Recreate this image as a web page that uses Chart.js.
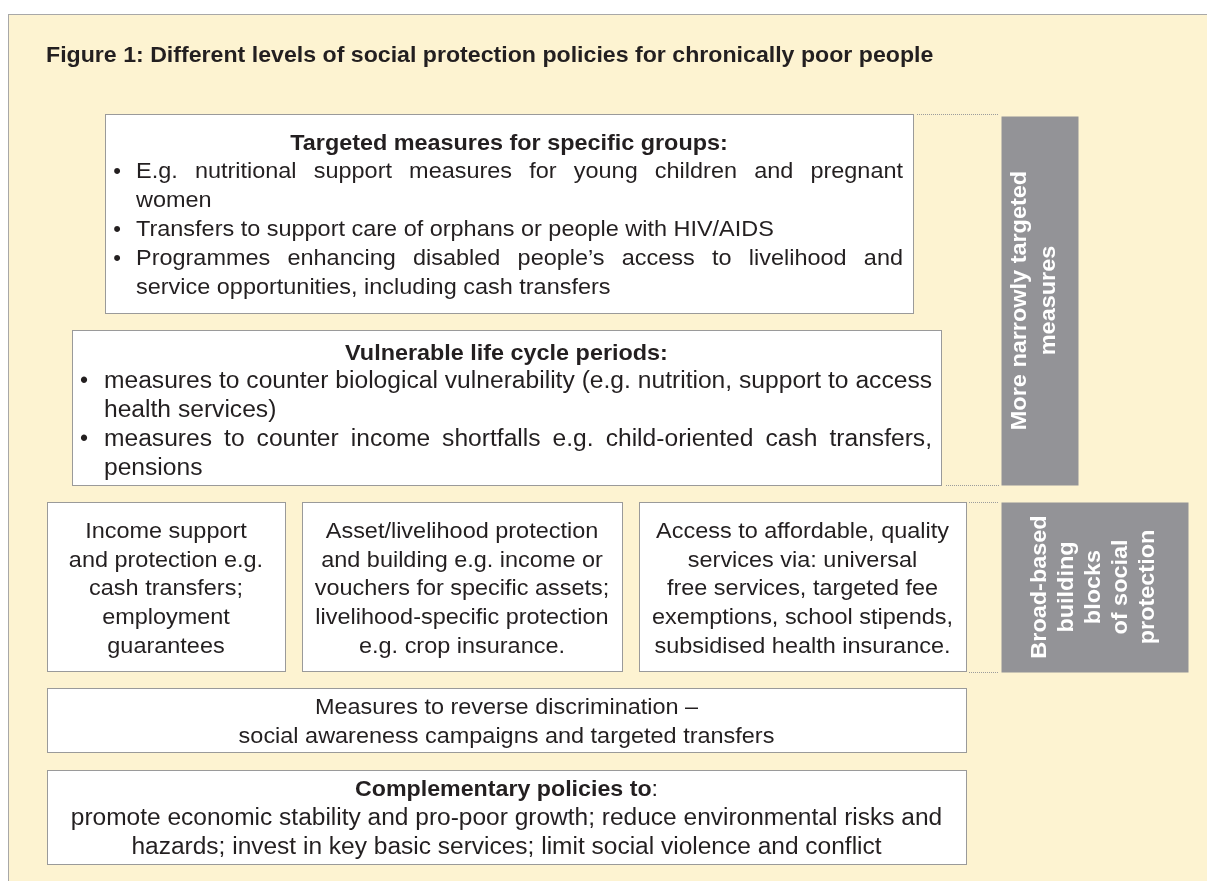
<!DOCTYPE html>
<html>
<head>
<meta charset="utf-8">
<script src="https://cdn.jsdelivr.net/npm/chart.js@4.4.0/dist/chart.umd.min.js"></script>
<style>
  html, body { margin: 0; padding: 0; background: #fff; }
  canvas { display: block; }
</style>
</head>
<body>
<canvas id="figure" width="1207" height="881"></canvas>
<script>
// --- text content of the figure ---
const figureTitle = "Figure 1: Different levels of social protection policies for chronically poor people";

const targetedHeading = "Targeted measures for specific groups:";
const targetedItems = [
    ["E.g. nutritional support measures for young children and pregnant", "women"],
    ["Transfers to support care of orphans or people with HIV/AIDS"],
    ["Programmes enhancing disabled people\u2019s access to livelihood and", "service opportunities, including cash transfers"]
];

const lifeCycleHeading = "Vulnerable life cycle periods:";
const lifeCycleItems = [
    ["measures to counter biological vulnerability (e.g. nutrition, support to access", "health services)"],
    ["measures to counter income shortfalls e.g. child-oriented cash transfers,", "pensions"]
];

const buildingBlocks = [
    ["Income support", "and protection e.g.", "cash transfers;", "employment", "guarantees"],
    ["Asset/livelihood protection", "and building e.g. income or", "vouchers for specific assets;", "livelihood-specific protection", "e.g. crop insurance."],
    ["Access to affordable, quality", "services via: universal", "free services, targeted fee", "exemptions, school stipends,", "subsidised health insurance."]
];

const discriminationLines = ["Measures to reverse discrimination \u2013", "social awareness campaigns and targeted transfers"];

const complementaryHeading = "Complementary policies to";
const complementaryLines = [
    "promote economic stability and pro-poor growth; reduce environmental risks and",
    "hazards; invest in key basic services; limit social violence and conflict"
];

const sideLabels = [
    ["More narrowly targeted", "measures"],
    ["Broad-based", "building", "blocks", "of social", "protection"]
];

// --- layout (diagram units, one unit per pixel) ---
const layout = {
    panel: { x0: 8, y0: 14, x1: 1230, y1: 900 },
    titleAt: { x: 46, y: 62 },
    targetedBox: { x0: 105, y0: 114, x1: 913, y1: 313, head: 150 },
    lifeCycleBox: { x0: 72, y0: 330, x1: 941, y1: 485, head: 360 },
    blockBoxes: [
        { x0: 47, y0: 502, x1: 285, y1: 671 },
        { x0: 302, y0: 502, x1: 622, y1: 671 },
        { x0: 639, y0: 502, x1: 966, y1: 671 }
    ],
    blockBase: 538,
    discriminationBox: { x0: 47, y0: 688, x1: 966, y1: 752, base: 714 },
    complementaryBox: { x0: 47, y0: 770, x1: 966, y1: 864, base: 796 },
    sideBars: [
        { x0: 1001, y0: 116, x1: 1078, y1: 485, baselines: [1026, 1055] },
        { x0: 1001, y0: 502, x1: 1188, y1: 672, baselines: [1046, 1073, 1100, 1127, 1154] }
    ],
    connectors: [
        { x0: 917, x1: 999, y: 114 },
        { x0: 946, x1: 999, y: 485 },
        { x0: 969, x1: 999, y: 502 },
        { x0: 969, x1: 999, y: 672 }
    ]
};

const FONT = '"Liberation Sans", Arial, Helvetica, sans-serif';
const INK = "#231f20";

function setFont(ctx, size, bold) {
    ctx.font = `${bold ? "bold " : ""}${size}px ${FONT}`;
}

// text drawn slightly widened, as the source face is wider than Arial
function stretchText(ctx, str, x, y, align, k) {
    ctx.save();
    ctx.translate(x, y);
    ctx.scale(k, 1);
    ctx.textAlign = align;
    ctx.fillText(str, 0, 0);
    ctx.restore();
}

// justified line between two x positions
function drawJustified(ctx, text, x0, x1, y, k) {
    const words = text.split(" ");
    const widths = words.map(w => ctx.measureText(w).width * k);
    const total = widths.reduce((a, b) => a + b, 0);
    const gap = (x1 - x0 - total) / (words.length - 1);
    let x = x0;
    words.forEach((w, i) => {
        stretchText(ctx, w, x, y, "left", k);
        x += widths[i] + gap;
    });
}

const diagramPlugin = {
    id: "diagram",
    beforeDraw(chart) {
        const ctx = chart.ctx;
        const sx = v => chart.scales.x.getPixelForValue(v);
        const sy = v => chart.scales.y.getPixelForValue(v);

        function rect(r, fill, stroke) {
            const x = Math.round(sx(r.x0)) + 0.5, y = Math.round(sy(r.y0)) + 0.5;
            const w = Math.round(sx(r.x1) - sx(r.x0)), h = Math.round(sy(r.y1) - sy(r.y0));
            ctx.fillStyle = fill;
            ctx.fillRect(x, y, w, h);
            if (stroke) {
                ctx.strokeStyle = stroke;
                ctx.lineWidth = 1;
                ctx.strokeRect(x, y, w, h);
            }
        }

        ctx.save();
        ctx.textBaseline = "alphabetic";
        ctx.fillStyle = "#ffffff";
        ctx.fillRect(0, 0, chart.width, chart.height);

        // background panel
        rect(layout.panel, "#fdf3d1", "#a8a8a8");

        // title
        ctx.fillStyle = INK;
        setFont(ctx, 22, true);
        stretchText(ctx, figureTitle, sx(layout.titleAt.x), sy(layout.titleAt.y), "left", 1.052);

        // dotted connectors
        ctx.strokeStyle = "#9c9c9c";
        ctx.lineWidth = 1;
        ctx.setLineDash([1, 1]);
        layout.connectors.forEach(c => {
            ctx.beginPath();
            ctx.moveTo(sx(c.x0), Math.round(sy(c.y)) + 0.5);
            ctx.lineTo(sx(c.x1), Math.round(sy(c.y)) + 0.5);
            ctx.stroke();
        });
        ctx.setLineDash([]);

        const boxStroke = "#9a9a9a";
        const lineGap = 29;

        // bulleted boxes
        function bulletBox(box, heading, items, size, k, textOff, rightPad) {
            rect(box, "#ffffff", boxStroke);
            ctx.fillStyle = INK;
            setFont(ctx, 22, true);
            stretchText(ctx, heading, sx((box.x0 + box.x1) / 2), sy(box.head), "center", 1.063);
            setFont(ctx, size, false);
            let y = box.head + lineGap - 1;
            items.forEach(lines => {
                stretchText(ctx, "\u2022", sx(box.x0 + 12), sy(y), "center", 1);
                lines.forEach((ln, i) => {
                    if (i < lines.length - 1) {
                        drawJustified(ctx, ln, sx(box.x0 + textOff), sx(box.x1 - rightPad), sy(y), k);
                    } else {
                        stretchText(ctx, ln, sx(box.x0 + textOff), sy(y), "left", k);
                    }
                    y += lineGap;
                });
            });
        }
        bulletBox(layout.targetedBox, targetedHeading, targetedItems, 22, 1.066, 31, 10);
        bulletBox(layout.lifeCycleBox, lifeCycleHeading, lifeCycleItems, 23, 1.07, 32, 9);

        // building block boxes
        layout.blockBoxes.forEach((b, k) => {
            rect(b, "#ffffff", boxStroke);
            ctx.fillStyle = INK;
            setFont(ctx, 22, false);
            buildingBlocks[k].forEach((ln, i) => {
                stretchText(ctx, ln, sx((b.x0 + b.x1) / 2), sy(layout.blockBase + i * 28.7), "center", 1.066);
            });
        });

        // discrimination box
        const db = layout.discriminationBox;
        rect(db, "#ffffff", boxStroke);
        ctx.fillStyle = INK;
        setFont(ctx, 22, false);
        discriminationLines.forEach((ln, i) =>
            stretchText(ctx, ln, sx((db.x0 + db.x1) / 2), sy(db.base + i * lineGap), "center", 1.066));

        // complementary box
        const cb = layout.complementaryBox;
        rect(cb, "#ffffff", boxStroke);
        ctx.fillStyle = INK;
        const cx = sx((cb.x0 + cb.x1) / 2);
        const hk = 1.055;
        setFont(ctx, 22, true);
        const hw = ctx.measureText(complementaryHeading).width * hk;
        setFont(ctx, 22, false);
        const cw = ctx.measureText(":").width * hk;
        setFont(ctx, 22, true);
        stretchText(ctx, complementaryHeading, cx - (hw + cw) / 2, sy(cb.base), "left", hk);
        setFont(ctx, 22, false);
        stretchText(ctx, ":", cx - (hw + cw) / 2 + hw, sy(cb.base), "left", hk);
        setFont(ctx, 23, false);
        complementaryLines.forEach((ln, i) =>
            stretchText(ctx, ln, cx, sy(cb.base + (i + 1) * lineGap), "center", 1.065));

        // grey side bars with rotated labels
        layout.sideBars.forEach((bar, k) => {
            rect(bar, "#939397", null);
            ctx.fillStyle = "#ffffff";
            setFont(ctx, 22, true);
            const cy = sy((bar.y0 + bar.y1) / 2);
            sideLabels[k].forEach((ln, i) => {
                ctx.save();
                ctx.translate(sx(bar.baselines[i]), cy);
                ctx.rotate(-Math.PI / 2);
                stretchText(ctx, ln, 0, 0, "center", 1.066);
                ctx.restore();
            });
        });

        ctx.restore();
    }
};

new Chart(document.getElementById("figure"), {
    type: "scatter",
    data: { datasets: [] },
    options: {
        responsive: false,
        animation: false,
        events: [],
        layout: { padding: 0 },
        plugins: { legend: { display: false }, tooltip: { enabled: false } },
        scales: {
            x: { type: "linear", min: 0, max: 1207, display: false },
            y: { type: "linear", min: 0, max: 881, reverse: true, display: false }
        }
    },
    plugins: [diagramPlugin]
});
</script>
</body>
</html>
